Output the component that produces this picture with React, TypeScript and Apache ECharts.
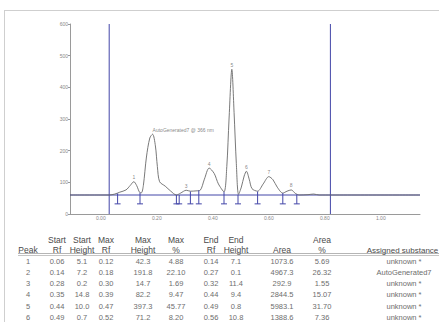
import React, { useEffect, useRef } from "react";
import * as echarts from "echarts";

// ---- densitogram (Rf, height) ----
const curveRf = [-0.11, 0.0, 0.03, 0.05, 0.068, 0.09, 0.105, 0.118, 0.128, 0.139, 0.145, 0.152, 0.163, 0.175, 0.185, 0.195, 0.202, 0.21, 0.23, 0.25, 0.27, 0.285, 0.305, 0.32, 0.34, 0.355, 0.37, 0.387, 0.405, 0.42, 0.44, 0.45, 0.458, 0.468, 0.476, 0.484, 0.492, 0.502, 0.512, 0.52, 0.53, 0.54, 0.56, 0.58, 0.6, 0.615, 0.63, 0.65, 0.665, 0.68, 0.695, 0.71, 0.74, 0.76, 0.78, 1.14];
const curveVal = [60, 60, 60, 63, 69, 76, 90, 102, 90, 68, 67, 90, 180, 240, 252, 215, 150, 102, 88, 72, 60, 66, 75, 72, 73, 75, 110, 145, 128, 95, 70, 150, 300, 457, 320, 160, 62, 85, 120, 135, 110, 80, 72, 95, 118, 108, 85, 66, 72, 76, 65, 60, 61, 63, 60, 60];

const baselineValue = 60;
const plateLines = [0.03, 0.82];

const peakNo = ["1", "2", "3", "4", "5", "6", "7", "8"];
const peakRf = [0.118, 0.185, 0.305, 0.387, 0.468, 0.52, 0.6, 0.68];
const peakTop = [102, 252, 75, 145, 457, 135, 118, 76];
const peakAnnotation = "AutoGenerated7 @ 366 nm";

const markerRf = [0.06, 0.14, 0.27, 0.28, 0.32, 0.35, 0.44, 0.49, 0.56, 0.65, 0.7];
const markerTop = [65, 67, 60, 60, 71, 75, 70, 61, 71, 66, 62];
const markerBottom = 32;

const xTickValues = [0, 0.2, 0.4, 0.6, 0.8, 1.0];
const X_MIN = -0.11;
const X_MAX = 1.14;
const Y_MAX = 600;

// ---- table ----
const colPeak = ["1", "2", "3", "4", "5", "6"];
const colStartRf = ["0.06", "0.14", "0.28", "0.35", "0.44", "0.49"];
const colStartHeight = ["5.1", "7.2", "0.2", "14.8", "10.0", "0.7"];
const colMaxRf = ["0.12", "0.18", "0.30", "0.39", "0.47", "0.52"];
const colMaxHeight = ["42.3", "191.8", "14.7", "82.2", "397.3", "71.2"];
const colMaxPct = ["4.88", "22.10", "1.69", "9.47", "45.77", "8.20"];
const colEndRf = ["0.14", "0.27", "0.32", "0.44", "0.49", "0.56"];
const colEndHeight = ["7.1", "0.1", "11.4", "9.4", "0.8", "10.8"];
const colArea = ["1073.6", "4967.3", "292.9", "2844.5", "5983.1", "1388.6"];
const colAreaPct = ["5.69", "26.32", "1.55", "15.07", "31.70", "7.36"];
const colAssigned = ["unknown *", "AutoGenerated7", "unknown *", "unknown *", "unknown *", "unknown *"];

const headTop = ["", "Start", "Start", "Max", "Max", "Max", "End", "End", "", "Area", ""];
const headBottom = ["Peak", "Rf", "Height", "Rf", "Height", "%", "Rf", "Height", "Area", "%", "Assigned substance"];

const BLUE = "#4346a8";
const FONT = "Liberation Sans, Arial, sans-serif";

export default function App() {
  const ref = useRef<HTMLDivElement>(null);
  useEffect(() => {
    if (!ref.current) return;
    const chart = echarts.init(ref.current, undefined, { renderer: "svg" });

    const columns = [colPeak, colStartRf, colStartHeight, colMaxRf, colMaxHeight, colMaxPct, colEndRf, colEndHeight, colArea, colAreaPct, colAssigned];
    const colX = [28, 57, 82, 106, 143, 176, 211, 236, 282, 322, 404];
    const headX = [28, 57, 82, 106, 143, 176, 211, 236, 282, 322, 402.5];
    const rowY = [261, 272.3, 283.6, 294.9, 306.2, 317.5];

    const graphic: any[] = [
      { type: "line", shape: { x1: 4, y1: 10.5, x2: 439, y2: 10.5 }, style: { stroke: "#cfcfcf", lineWidth: 1 } },
      { type: "line", shape: { x1: 4.5, y1: 10, x2: 4.5, y2: 322 }, style: { stroke: "#cfcfcf", lineWidth: 1 } },
      { type: "line", shape: { x1: 18, y1: 253.5, x2: 439, y2: 253.5 }, style: { stroke: "#b5b5b5", lineWidth: 1 } },
      { type: "line", shape: { x1: 18, y1: 255.5, x2: 439, y2: 255.5 }, style: { stroke: "#c5c5c5", lineWidth: 1 } },
    ];
    columns.forEach((col, ci) => {
      const hf = ci === columns.length - 1 ? 8 : 8.5;
      if (headTop[ci]) {
        graphic.push({ type: "text", x: headX[ci], y: 240, style: { text: headTop[ci], fill: "#4a4a4a", font: `${hf}px ${FONT}`, align: "center", verticalAlign: "middle" } });
      }
      graphic.push({ type: "text", x: headX[ci], y: 250, style: { text: headBottom[ci], fill: "#4a4a4a", font: `${hf}px ${FONT}`, align: "center", verticalAlign: "middle" } });
      col.forEach((v, ri) => {
        graphic.push({ type: "text", x: colX[ci], y: rowY[ri], style: { text: v, fill: "#6e6e6e", font: `7.5px ${FONT}`, align: "center", verticalAlign: "middle" } });
      });
    });

    const curve = curveRf.map((r, i) => [r, curveVal[i]]);
    const markers = markerRf.map((r, i) => [r, markerTop[i]]);
    const peaks = peakRf.map((r, i) => {
      if (i === 1) {
        return {
          value: [r, peakTop[i]],
          label: { formatter: peakAnnotation, position: [0, -4], align: "left", verticalAlign: "middle" },
        };
      }
      return { value: [r, peakTop[i]] };
    });

    const straight = (data: number[][]) => ({
      type: "line",
      data,
      showSymbol: false,
      silent: true,
      lineStyle: { color: BLUE, width: 1 },
      z: 2,
    });

    chart.setOption({
      animation: false,
      grid: { left: 70, right: 19, top: 24, bottom: 108 },
      xAxis: {
        type: "value",
        min: X_MIN,
        max: X_MAX,
        axisLine: { onZero: false, lineStyle: { color: "#9a9a9a" } },
        axisTick: { show: false },
        splitLine: { show: false },
        axisLabel: {
          customValues: xTickValues,
          formatter: (v: number) => v.toFixed(2),
          fontSize: 5,
          color: "#888",
          margin: 1,
          fontFamily: FONT,
        },
      },
      yAxis: {
        type: "value",
        min: 0,
        max: Y_MAX,
        interval: 100,
        axisLine: { show: true, onZero: false, lineStyle: { color: "#9a9a9a" } },
        axisTick: { show: true, length: 2, lineStyle: { color: "#9a9a9a" } },
        splitLine: { show: false },
        axisLabel: { fontSize: 5, color: "#888", margin: 2, fontFamily: FONT },
      },
      series: [
        straight([[X_MIN, baselineValue], [X_MAX, baselineValue]]),
        ...plateLines.map((x) => straight([[x, 0], [x, Y_MAX]])),
        {
          type: "line",
          data: curve,
          showSymbol: false,
          smooth: 0.3,
          lineStyle: { color: "#6a6a6a", width: 0.9 },
          z: 3,
        },
        {
          type: "custom",
          data: markers,
          z: 4,
          renderItem: (_p: any, api: any) => {
            const x = api.value(0);
            const top = api.value(1);
            const p1 = api.coord([x, top]);
            const p2 = api.coord([x, markerBottom]);
            return {
              type: "group",
              children: [
                { type: "line", shape: { x1: p1[0], y1: p1[1], x2: p2[0], y2: p2[1] }, style: { stroke: BLUE, lineWidth: 1 } },
                { type: "line", shape: { x1: p2[0] - 3, y1: p2[1], x2: p2[0] + 3, y2: p2[1] }, style: { stroke: BLUE, lineWidth: 1 } },
              ],
            };
          },
        },
        {
          type: "scatter",
          data: peaks,
          symbolSize: 0,
          z: 5,
          label: {
            show: true,
            position: "top",
            distance: 2,
            fontSize: 5,
            color: "#666",
            fontFamily: FONT,
            formatter: (p: any) => peakNo[p.dataIndex],
          },
        },
      ],
      graphic,
    });
    return () => chart.dispose();
  }, []);
  return <div ref={ref} style={{ position: "fixed", left: 0, top: 0, width: 439, height: 322, background: "#fff" }} />;
}
